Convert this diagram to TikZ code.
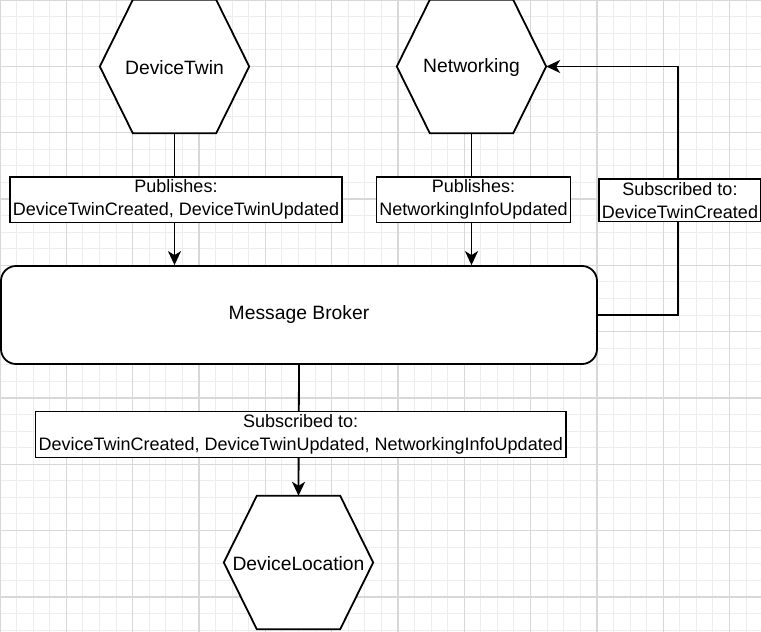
\documentclass[tikz,border=0pt]{standalone}
\usepackage{fontspec}
\setmainfont{Liberation Sans}
\usetikzlibrary{arrows.meta,calc}

\definecolor{gridminor}{HTML}{EDEDED}
\definecolor{gridmajor}{HTML}{D8D8D8}

\tikzset{
  minorgrid/.style={draw=gridminor, line width=1pt},
  majorgrid/.style={draw=gridmajor, line width=1.3pt},
  shapeline/.style={draw=black, line width=1.8pt, fill=white, line join=miter},
  hexbox/.style={minimum width=149pt, minimum height=133pt, inner sep=0pt,
    font=\fontsize{19.3}{23}\selectfont},
  brokerbox/.style={shapeline, rounded corners=15pt, minimum width=596pt,
    minimum height=98pt, inner sep=0pt, font=\fontsize{19.3}{23}\selectfont},
  conn/.style={draw=black, line width=1.8pt,
    -{Stealth[length=14pt, width=13pt, inset=4pt]}},
  labelbox/.style={draw=black, fill=white, line width=1.5pt, align=center,
    inner xsep=3pt, inner ysep=3pt, font=\fontsize{18}{23}\selectfont},
}

% hexagon outline drawn around a rectangular node
\newcommand\hexoutline[1]{%
  \path[shapeline] ($(#1.north west)+(33,0)$) -- ($(#1.north east)+(-33,0)$)
    -- (#1.east) -- ($(#1.south east)+(-33,0)$) -- ($(#1.south west)+(33,0)$)
    -- (#1.west) -- cycle;}

\begin{document}
\begin{tikzpicture}[x=1pt, y=-1pt]
  \useasboundingbox (0,0) rectangle (761,632);
  \fill[white] (0,0) rectangle (761,632);

  % background grid
  \foreach \i in {0,...,45}
    \draw[minorgrid] (\i*16.58,0) -- (\i*16.58,632);
  \foreach \j in {0,...,38}
    \draw[minorgrid] (0,\j*16.58) -- (761,\j*16.58);
  \foreach \i in {0,...,11}
    \draw[majorgrid] (\i*66.32,0) -- (\i*66.32,632);
  \foreach \j in {0,...,9}
    \draw[majorgrid] (0,\j*66.32) -- (761,\j*66.32);

  % services
  \node[hexbox] (dt) at (174.5,66.5) {};
  \hexoutline{dt}
  \node[hexbox, yshift=-1pt] at (dt) {DeviceTwin};

  \node[hexbox] (nw) at (471.5,66.5) {};
  \hexoutline{nw}
  \node[hexbox, yshift=-1pt] at (nw) {Networking};

  \node[hexbox] (dl) at (298.5,562.5) {};
  \hexoutline{dl}
  \node[hexbox, yshift=-1pt] at (dl) {DeviceLocation};

  % broker
  \node[brokerbox] (broker) at (299,315) {Message Broker};

  % connectors with their event labels
  \draw[conn] (dt.south) -- (dt.south |- broker.north)
    node[labelbox, midway, xshift=1.5pt, yshift=-0.5pt] (pubdt)
      {Publishes:\\DeviceTwinCreated, DeviceTwinUpdated};

  \draw[conn] (nw.south) -- (nw.south |- broker.north)
    node[labelbox, midway, xshift=2pt, yshift=-0.5pt] (pubnw)
      {Publishes:\\NetworkingInfoUpdated};

  \coordinate (bend) at (678,315);
  \draw[conn] (broker.east) -- (bend) |- (nw.east)
    node[labelbox, pos=0.232, xshift=2pt, yshift=-0.5pt] (subnw)
      {Subscribed to:\\DeviceTwinCreated};

  \draw[conn] (broker.south) -- (dl.north)
    node[labelbox, pos=0.527, xshift=2pt, yshift=-0.5pt] (subdl)
      {Subscribed to:\\DeviceTwinCreated, DeviceTwinUpdated, NetworkingInfoUpdated};
\end{tikzpicture}
\end{document}
